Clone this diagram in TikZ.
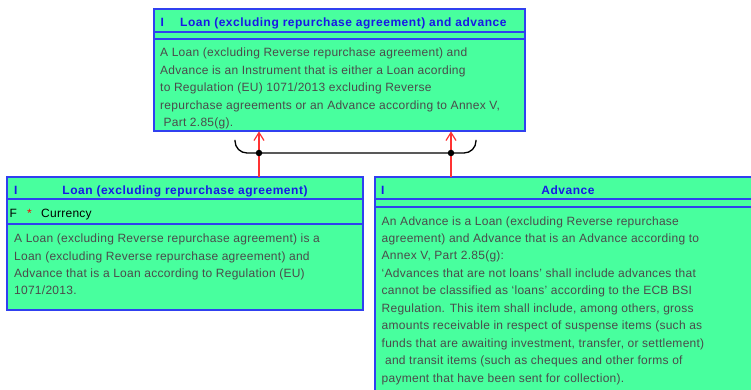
\documentclass[tikz,border=0pt]{standalone}
\usepackage{fontspec}
\setmainfont[LetterSpace=2.2]{Liberation Sans}
\newfontfamily\ttlfont[LetterSpace=4.3]{Liberation Sans}
\usetikzlibrary{arrows.meta}
\definecolor{clsfill}{RGB}{72,255,158}
\definecolor{clsline}{RGB}{48,64,240}
\definecolor{ttlblue}{RGB}{24,24,230}
\definecolor{desctext}{RGB}{75,75,75}
\definecolor{genred}{RGB}{255,50,50}
\tikzset{
  clsbox/.style={draw=clsline, line width=1.4pt, fill=clsfill},
  sepline/.style={draw=clsline, line width=1.4pt},
  ttl/.style={font=\fontsize{12}{14}\ttlfont\bfseries, text=ttlblue, inner sep=0pt},
  desc/.style={font=\fontsize{12}{14}\selectfont, text=desctext, inner sep=0pt, anchor=base west},
  attr/.style={font=\fontsize{12}{14}\selectfont, text=black, inner sep=0pt, anchor=base west},
  gen/.style={draw=genred, line width=1.2pt, -{Straight Barb[length=8pt,width=10pt,line width=1.2pt]}},
  joinline/.style={draw=black, line width=1.3pt},
  joindot/.style={circle, fill=black, inner sep=0pt, minimum size=6.5pt},
}
\begin{document}
\begin{tikzpicture}[x=1pt,y=-1pt]
\useasboundingbox (0,0) rectangle (751,390);
\clip (0,0) rectangle (751,390);
\fill[white] (0,0) rectangle (751,390);

% --- top class: Loan (excluding repurchase agreement) and advance
\path[clsbox] (154,9) rectangle (525,131);
\node[inner sep=0pt, minimum width=371pt, minimum height=122pt, anchor=north west] (top) at (154,9) {};
\draw[sepline] (154,32) -- (525,32);
\draw[sepline] (154,39) -- (525,39);
\node[ttl, anchor=base west] (topI) at (160.5,26.7) {I};
\node[ttl, anchor=base west] (topT) at (180,26.7) {Loan (excluding repurchase agreement) and advance};
\foreach \txt [count=\i] in {
  {A Loan (excluding Reverse repurchase agreement) and},
  {Advance is an Instrument that is either a Loan acording},
  {to Regulation (EU) 1071/2013 excluding Reverse},
  {repurchase agreements or an Advance according to Annex V,},
  {\hspace*{3.4pt}Part 2.85(g).}}
  \node[desc] (topd\i) at (160,{57+17.4*(\i-1)}) {\txt};

% --- left class: Loan (excluding repurchase agreement)
\path[clsbox] (7,177) rectangle (363,310);
\node[inner sep=0pt, minimum width=356pt, minimum height=133pt, anchor=north west] (loan) at (7,177) {};
\draw[sepline] (7,199) -- (363,199);
\draw[sepline] (7,224) -- (363,224);
\node[ttl, anchor=base west] (loanI) at (14,194) {I};
\node[ttl, anchor=base] (loanT) at (185,194) {Loan (excluding repurchase agreement)};
\node[attr] (loanF) at (9.5,217.3) {F};
\node[attr, text=red] (loanS) at (27,217.3) {*};
\node[attr] (loanA) at (41,217.3) {Currency};
\foreach \txt [count=\i] in {
  {A Loan (excluding Reverse repurchase agreement) is a},
  {Loan (excluding Reverse repurchase agreement) and},
  {Advance that is a Loan according to Regulation (EU)},
  {1071/2013.}}
  \node[desc] (loand\i) at (14,{242.7+17.4*(\i-1)}) {\txt};

% --- right class: Advance
\path[clsbox] (375,177) rectangle (761,400);
\node[inner sep=0pt, minimum width=386pt, minimum height=223pt, anchor=north west] (adv) at (375,177) {};
\draw[sepline] (375,199) -- (761,199);
\draw[sepline] (375,207) -- (761,207);
\node[ttl, anchor=base west] (advI) at (381,194) {I};
\node[ttl, anchor=base] (advT) at (568,194) {Advance};
\foreach \txt [count=\i] in {
  {An Advance is a Loan (excluding Reverse repurchase},
  {agreement) and Advance that is an Advance according to},
  {Annex V, Part 2.85(g):},
  {‘Advances that are not loans’ shall include advances that},
  {cannot be classified as ‘loans’ according to the ECB BSI},
  {Regulation. This item shall include, among others, gross},
  {amounts receivable in respect of suspense items (such as},
  {funds that are awaiting investment, transfer, or settlement)},
  {\hspace*{3.4pt}and transit items (such as cheques and other forms of},
  {payment that have been sent for collection).}}
  \node[desc] (advd\i) at (381.5,{225+17.48*(\i-1)}) {\txt};

% --- generalisation set with its joining bracket
\coordinate (j1) at (259,153);
\coordinate (j2) at (451,153);
\coordinate (bl) at (235,140);
\coordinate (br) at (476,140);
\draw[gen] (j1 |- loan.north) -- (j1 |- top.south);
\draw[gen] (j2 |- adv.north) -- (j2 |- top.south);
\draw[joinline, rounded corners=12pt] (bl) |- (j1) -- (j2) -| (br);
\node[joindot] (d1) at (j1) {};
\node[joindot] (d2) at (j2) {};
\end{tikzpicture}
\end{document}
